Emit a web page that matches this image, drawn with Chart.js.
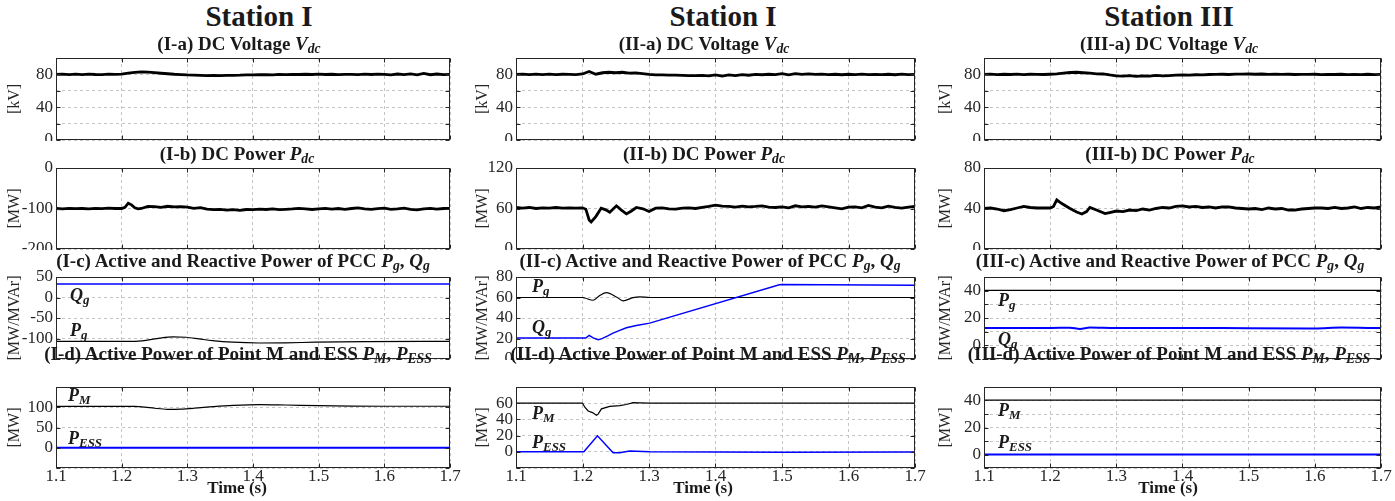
<!DOCTYPE html>
<html lang="en">
<head>
<meta charset="UTF-8" />
<title>Station responses</title>
<style>
    body {
        margin: 0;
        background: #fff;
        width: 1395px;
        height: 501px;
        overflow: hidden;
        position: relative;
        font-family: "Liberation Serif", "Times New Roman", serif;
        color: #1a1a1a;
    }
    .txt {
        position: absolute;
        white-space: nowrap;
        line-height: 1;
        font-weight: bold;
        z-index: 5;
    }
    .st { font-size: 29px; transform: translateX(-50%); }
    .pt { font-size: 19px; transform: translateX(-50%); }
    .tm { font-size: 17px; transform: translateX(-50%); }
    .lb { font-size: 18px; font-style: italic; }
    sub {
        font-size: 0.72em;
        vertical-align: baseline;
        position: relative;
        top: 0.22em;
    }
    .box { position: absolute; }
</style>
</head>
<body>
<div class="txt st" style="left:259px;top:2px">Station I</div>
<div class="txt st" style="left:723px;top:2px">Station I</div>
<div class="txt st" style="left:1169px;top:2px">Station III</div>

<div class="txt pt" style="left:239px;top:34px">(I-a) DC Voltage <i>V<sub>dc</sub></i></div>
<div class="txt pt" style="left:237px;top:144px">(I-b) DC Power <i>P<sub>dc</sub></i></div>
<div class="txt pt" style="left:243px;top:251px">(I-c) Active and Reactive Power of PCC <i>P<sub>g</sub></i>, <i>Q<sub>g</sub></i></div>
<div class="txt pt" style="left:238px;top:344px">(I-d) Active Power of Point M and ESS <i>P<sub>M</sub></i>, <i>P<sub>ESS</sub></i></div>

<div class="txt pt" style="left:704px;top:34px">(II-a) DC Voltage <i>V<sub>dc</sub></i></div>
<div class="txt pt" style="left:704px;top:144px">(II-b) DC Power <i>P<sub>dc</sub></i></div>
<div class="txt pt" style="left:710px;top:251px">(II-c) Active and Reactive Power of PCC <i>P<sub>g</sub></i>, <i>Q<sub>g</sub></i></div>
<div class="txt pt" style="left:708px;top:344px">(II-d) Active Power of Point M and ESS <i>P<sub>M</sub></i>, <i>P<sub>ESS</sub></i></div>

<div class="txt pt" style="left:1169px;top:34px">(III-a) DC Voltage <i>V<sub>dc</sub></i></div>
<div class="txt pt" style="left:1170px;top:144px">(III-b) DC Power <i>P<sub>dc</sub></i></div>
<div class="txt pt" style="left:1170px;top:251px">(III-c) Active and Reactive Power of PCC <i>P<sub>g</sub></i>, <i>Q<sub>g</sub></i></div>
<div class="txt pt" style="left:1169px;top:344px">(III-d) Active Power of Point M and ESS <i>P<sub>M</sub></i>, <i>P<sub>ESS</sub></i></div>

<div class="txt lb" style="left:70px;top:286px">Q<sub>g</sub></div>
<div class="txt lb" style="left:70px;top:321px">P<sub>g</sub></div>
<div class="txt lb" style="left:68px;top:386px">P<sub>M</sub></div>
<div class="txt lb" style="left:68px;top:429px">P<sub>ESS</sub></div>

<div class="txt lb" style="left:532px;top:277px">P<sub>g</sub></div>
<div class="txt lb" style="left:532px;top:318px">Q<sub>g</sub></div>
<div class="txt lb" style="left:532px;top:404px">P<sub>M</sub></div>
<div class="txt lb" style="left:532px;top:433px">P<sub>ESS</sub></div>

<div class="txt lb" style="left:998px;top:291px">P<sub>g</sub></div>
<div class="txt lb" style="left:998px;top:330px">Q<sub>g</sub></div>
<div class="txt lb" style="left:998px;top:401px">P<sub>M</sub></div>
<div class="txt lb" style="left:998px;top:433px">P<sub>ESS</sub></div>

<div class="txt tm" style="left:237px;top:479px">Time (s)</div>
<div class="txt tm" style="left:703px;top:479px">Time (s)</div>
<div class="txt tm" style="left:1168px;top:479px">Time (s)</div>

<script src="https://cdn.jsdelivr.net/npm/chart.js"></script>
<script>
// ---- data ----
const T_VDC = [1.10,1.11,1.12,1.13,1.14,1.15,1.16,1.17,1.18,1.19,
    1.20,1.21,1.22,1.23,1.24,1.25,1.26,1.27,1.28,1.29,
    1.30,1.31,1.32,1.33,1.34,1.35,1.36,1.37,1.38,1.39,
    1.40,1.41,1.42,1.43,1.44,1.45,1.46,1.47,1.48,1.49,
    1.50,1.51,1.52,1.53,1.54,1.55,1.56,1.57,1.58,1.59,
    1.60,1.61,1.62,1.63,1.64,1.65,1.66,1.67,1.68,1.69,1.70]
const VDC_1 = [80.0,80.4,79.7,80.3,79.8,80.4,79.9,79.7,80.3,80.0,
    80.3,81.5,82.4,83.0,82.8,82.1,81.4,80.8,80.2,79.8,
    79.3,79.0,78.7,78.5,78.8,78.4,78.7,78.9,79.0,79.3,
    79.5,79.6,79.8,79.5,80.0,79.7,80.1,79.9,80.2,79.9,
    80.3,79.9,80.2,79.8,80.1,80.0,79.7,80.3,79.9,80.4,
    80.0,79.5,80.5,79.7,80.6,79.5,81.3,79.6,80.5,79.8,80.0]
const VDC_2 = [80.0,80.4,79.7,80.3,79.8,80.4,79.7,80.2,80.0,79.8,
    80.5,83.5,80.2,82.0,82.6,82.0,82.6,81.5,81.8,81.0,
    80.0,79.5,79.3,79.2,79.0,78.8,78.6,78.5,78.8,78.2,
    79.5,78.0,79.5,78.5,79.8,79.0,80.0,79.6,80.2,79.8,
    81.0,79.5,81.0,80.0,80.6,80.0,80.4,79.8,80.2,79.6,
    80.2,79.8,80.3,79.7,80.1,79.8,80.2,79.6,80.3,79.8,80.0]
const VDC_3 = [80.0,80.3,79.8,80.2,79.9,80.3,79.8,80.2,80.0,79.9,
    80.2,80.6,81.5,82.3,82.6,82.0,81.5,80.6,80.5,79.3,
    78.3,77.8,78.6,77.5,78.3,78.0,78.8,78.3,78.6,79.0,
    79.3,79.1,79.6,79.4,79.9,80.0,80.2,79.9,80.3,80.4,
    80.5,80.2,80.5,80.1,80.3,80.0,80.2,79.9,80.1,80.0,
    80.2,79.8,80.1,79.9,80.2,79.8,80.0,79.7,80.2,79.8,80.0]

const T_PDC_1 = [1.10,1.11,1.12,1.13,1.14,1.15,1.16,1.17,1.18,1.19,1.20,
    1.205,1.21,1.215,1.22,1.225,
    1.23,1.24,1.25,1.26,1.27,1.28,1.29,1.30,
    1.31,1.32,1.33,1.34,1.35,1.36,1.37,1.38,1.39,1.40,
    1.41,1.42,1.43,1.44,1.45,1.46,1.47,1.48,1.49,1.50,
    1.51,1.52,1.53,1.54,1.55,1.56,1.57,1.58,1.59,1.60,
    1.61,1.62,1.63,1.64,1.65,1.66,1.67,1.68,1.69,1.70]
const PDC_1 = [-100,-101,-99.5,-100.5,-100,-101,-99.5,-100.5,-99,-100,-100,
    -97,-87,-91,-98,-101,
    -100,-95,-95.5,-97,-94.5,-96,-95.5,-96.5,
    -99.5,-98,-101.5,-103,-102,-104,-103,-104.5,-102.5,-103,
    -101.5,-102.5,-101,-103,-102,-101,-99.5,-101,-102.5,-101,
    -99.5,-101.5,-100,-102,-100,-98.5,-101,-102,-100.5,-99,
    -102,-101,-99,-102,-103.5,-101,-99.5,-101.5,-100,-99.5]

const T_PDC_2 = [1.10,1.11,1.12,1.13,1.14,1.15,1.16,1.17,1.18,1.19,1.20,
    1.205,1.21,1.213,1.22,1.228,1.235,1.241,1.251,1.258,1.266,1.273,1.281,1.291,1.30,
    1.31,1.32,1.33,1.34,1.35,1.36,1.37,1.38,1.39,1.40,
    1.41,1.42,1.43,1.44,1.45,1.46,1.47,1.48,1.49,1.50,
    1.51,1.52,1.53,1.54,1.55,1.56,1.57,1.58,1.59,1.60,
    1.61,1.62,1.63,1.64,1.65,1.66,1.67,1.68,1.69,1.70]
const PDC_2 = [61.5,60.5,61.5,60,61,60.5,61.5,60.5,61,60.5,61,
    59,43,40,48,60.5,58,54.5,64,58,52,56,61.5,59.5,55.5,
    60.5,61,59.5,59,60.5,61,60,61.5,63,65,
    63.5,63,62,63.5,62.5,63,64,62,61.5,62.5,
    61,64,62.5,63,62,64,62.5,61,59.5,62,
    62.5,61,64.5,62,61,63.5,61.5,60.5,62,63]

const T_PDC_3 = [1.10,1.11,1.12,1.13,1.14,1.15,1.16,1.17,1.18,1.19,1.20,
    1.205,1.21,1.215,1.22,1.23,1.24,1.248,1.255,1.26,1.27,1.283,1.29,1.30,
    1.31,1.32,1.33,1.34,1.35,1.36,1.37,1.38,1.39,1.40,
    1.41,1.42,1.43,1.44,1.45,1.46,1.47,1.48,1.49,1.50,
    1.51,1.52,1.53,1.54,1.55,1.56,1.57,1.58,1.59,1.60,
    1.61,1.62,1.63,1.64,1.65,1.66,1.67,1.68,1.69,1.70]
const PDC_3 = [40,40.5,39.5,37.8,39,40.5,42,41,40.5,40.5,40.5,
    42,48.5,46,44,40,36.5,34.5,37,41,38.5,35,36,37.5,
    37,38.5,38,39.5,38.5,40,41,40.5,42,42.5,
    41.5,42,41,41.5,40.5,41.5,41.5,40.5,40,39.5,
    40,39,40.5,39.5,40,38.5,38.5,39.5,40,40.5,
    40.5,40,41,40,40.5,41.5,40,41,40.5,41.5]

const T_PG_1 = [1.10,1.217,1.237,1.258,1.278,1.298,1.318,1.338,1.369,1.409,1.449,1.495,1.571,1.70]
const PG_1 = [-107,-107,-104.5,-99,-96,-97,-101,-105,-109,-111,-110.5,-109,-107.5,-107]
const T_QG_1 = [1.10,1.70]
const QG_1 = [33,33]
const T_PM_1 = [1.10,1.22,1.235,1.25,1.27,1.29,1.31,1.34,1.37,1.41,1.45,1.50,1.55,1.60,1.70]
const PM_1 = [102,102,100.5,97.5,95,95.5,97.5,101.5,104.5,106.5,105.5,104,103,102.5,102.5]
const T_PESS_1 = [1.10,1.70]
const PESS_1 = [0,0]

const T_PG_2 = [1.10,1.20,1.2035,1.216,1.226,1.236,1.251,1.261,1.276,1.286,1.301,1.70]
const PG_2 = [60,60,59.5,57.3,62,64.7,60.5,56.8,59.8,60.6,60,60]
const T_QG_2 = [1.10,1.205,1.21,1.216,1.2235,1.2285,1.238,1.246,1.256,1.266,1.281,1.301,1.496,1.50,1.70]
const QG_2 = [20.5,20.5,23,20.6,18.8,19.6,22.5,25.2,27.9,30.4,32.7,35,72.5,72.6,72]
const T_PM_2 = [1.10,1.20,1.2035,1.2085,1.215,1.221,1.2235,1.2285,1.241,1.256,1.266,1.276,1.286,1.301,1.70]
const PM_2 = [60,60,55,50.4,48.4,45,46.5,53,56,57,58.4,60.8,60.4,60,60]
const T_PESS_2 = [1.10,1.202,1.2225,1.246,1.256,1.271,1.281,1.301,1.50,1.70]
const PESS_2 = [0,0,19.8,-1.2,-1.2,1,0.8,0,-0.5,-0.3]

const T_PG_3 = [1.10,1.70]
const PG_3 = [40.2,40.2]
const T_QG_3 = [1.10,1.20,1.23,1.245,1.26,1.30,1.40,1.50,1.60,1.64,1.70]
const QG_3 = [12.7,12.7,12.9,12.0,13.0,12.6,12.7,12.5,12.4,13.0,12.6]
const T_PM_3 = [1.10,1.70]
const PM_3 = [40.3,40.3]
const T_PESS_3 = [1.10,1.70]
const PESS_3 = [0,0]

// y axis: [min, max, step, labelled values]
const Y_VDC = [0, 100, 20, [0, 40, 80]]
const Y_PDC = [[-200, 0, 100, [-200, -100, 0]], [0, 120, 60, [0, 60, 120]], [0, 80, 40, [0, 40, 80]]]
const Y_PCC = [[-150, 50, 50, [-100, -50, 0, 50]], [0, 80, 20, [0, 20, 40, 60, 80]], [-10, 50, 10, [0, 20, 40]]]
const Y_ESS = [[-50, 150, 50, [0, 50, 100]], [-20, 80, 20, [0, 20, 40, 60]], [-10, 50, 10, [0, 20, 40]]]
const Y_TITLES = ["[kV]", "[MW]", "[MW/MVAr]", "[MW]"]

// ---- layout ----
const COL_LEFT = [56, 516, 984]
const COL_RIGHT = [450, 915, 1381]
const ROW_TOP = [58, 168, 277, 387]
const ROW_BOTTOM = [140, 249, 359, 468]
const YTITLE_PAD = [5, 13, 8]
const AXIS_W = 56
const PAD_TOP = 10
const PAD_RIGHT = 18

const BLACK = "#000000"
const BLUE = "#0000ff"
const FONT = '"Liberation Serif", "Times New Roman", serif'

Chart.defaults.font.family = FONT
Chart.defaults.color = "#262626"

const pts = (t, v) => t.map((x, i) => ({ x: x, y: v[i] }))

const framePlugin = {
    id: "frame",
    afterDraw(chart) {
        const { ctx, chartArea: a, scales } = chart
        const l = Math.round(a.left) + 0.5
        const t = Math.round(a.top) + 0.5
        const r = Math.round(a.right) - 0.5
        const b = Math.round(a.bottom) - 0.5
        ctx.save()
        ctx.strokeStyle = "#262626"
        ctx.lineWidth = 1
        ctx.strokeRect(l, t, r - l, b - t)
        ctx.beginPath()
        scales.x.ticks.forEach((tk) => {
            const px = Math.round(scales.x.getPixelForValue(tk.value)) + 0.5
            ctx.moveTo(px, b); ctx.lineTo(px, b - 4)
            ctx.moveTo(px, t); ctx.lineTo(px, t + 4)
        })
        scales.y.ticks.forEach((tk) => {
            const py = Math.round(scales.y.getPixelForValue(tk.value)) + 0.5
            ctx.moveTo(l, py); ctx.lineTo(l + 4, py)
            ctx.moveTo(r, py); ctx.lineTo(r - 4, py)
        })
        ctx.stroke()
        ctx.restore()
    },
}

function line(t, v, color, width, smooth) {
    return {
        data: pts(t, v),
        borderColor: color,
        borderWidth: width,
        pointRadius: 0,
        fill: false,
        tension: 0,
        cubicInterpolationMode: smooth ? "monotone" : "default",
    }
}

function makeChart(col, row, datasets, yspec) {
    const [ymin, ymax, ystep, ylabels] = yspec
    const plotW = COL_RIGHT[col] - COL_LEFT[col]
    const plotH = ROW_BOTTOM[row] - ROW_TOP[row]
    const bottomH = row === 3 ? 22 : 1
    const box = document.createElement("div")
    box.className = "box"
    const w = plotW + AXIS_W + PAD_RIGHT
    const h = plotH + PAD_TOP + bottomH
    box.style.left = COL_LEFT[col] - AXIS_W + "px"
    box.style.top = ROW_TOP[row] - PAD_TOP + "px"
    box.style.width = w + "px"
    box.style.height = h + "px"
    const cv = document.createElement("canvas")
    cv.width = w
    cv.height = h
    cv.style.width = w + "px"
    cv.style.height = h + "px"
    box.appendChild(cv)
    document.body.appendChild(box)

    new Chart(cv.getContext("2d"), {
        type: "line",
        data: { datasets: datasets },
        options: {
            responsive: false,
            animation: false,
            devicePixelRatio: 1,
            layout: { padding: { top: PAD_TOP, right: PAD_RIGHT, left: 0, bottom: 0 } },
            plugins: { legend: { display: false }, tooltip: { enabled: false } },
            scales: {
                x: {
                    type: "linear",
                    min: 1.1,
                    max: 1.7,
                    afterFit: (s) => {
                        s.height = bottomH
                        s.paddingLeft = 0
                        s.paddingRight = 0
                    },
                    ticks: {
                        display: row === 3,
                        autoSkip: false,
                        stepSize: 0.1,
                        padding: -2,
                        maxRotation: 0,
                        font: { size: 17, family: FONT },
                        callback: (v) => Number(v).toFixed(1),
                    },
                    grid: { color: "#c4c4c4", lineWidth: 1, drawTicks: false },
                    border: { display: false, dash: [3, 3] },
                },
                y: {
                    type: "linear",
                    min: ymin,
                    max: ymax,
                    afterFit: (s) => {
                        s.width = AXIS_W
                        s.paddingTop = 0
                        s.paddingBottom = 0
                    },
                    ticks: {
                        autoSkip: false,
                        stepSize: ystep,
                        padding: 3,
                        font: { size: 17, family: FONT },
                        callback: (v) => ylabels.some((q) => Math.abs(q - v) < 1e-6) ? String(v) : "",
                    },
                    title: {
                        display: true,
                        text: Y_TITLES[row],
                        font: { size: 16, family: FONT },
                        padding: { top: YTITLE_PAD[col], bottom: 0 },
                    },
                    grid: { color: "#c4c4c4", lineWidth: 1, drawTicks: false },
                    border: { display: false, dash: [3, 3] },
                },
            },
        },
        plugins: [framePlugin],
    })
}

// column I
makeChart(0, 0, [line(T_VDC, VDC_1, BLACK, 2.8, false)], Y_VDC)
makeChart(0, 1, [line(T_PDC_1, PDC_1, BLACK, 2.8, false)], Y_PDC[0])
makeChart(0, 2, [line(T_QG_1, QG_1, BLUE, 1.5, true), line(T_PG_1, PG_1, BLACK, 1.2, true)], Y_PCC[0])
makeChart(0, 3, [line(T_PESS_1, PESS_1, BLUE, 2, true), line(T_PM_1, PM_1, BLACK, 1.2, true)], Y_ESS[0])
// column II
makeChart(1, 0, [line(T_VDC, VDC_2, BLACK, 2.8, false)], Y_VDC)
makeChart(1, 1, [line(T_PDC_2, PDC_2, BLACK, 2.8, false)], Y_PDC[1])
makeChart(1, 2, [line(T_QG_2, QG_2, BLUE, 1.5, false), line(T_PG_2, PG_2, BLACK, 1.2, true)], Y_PCC[1])
makeChart(1, 3, [line(T_PESS_2, PESS_2, BLUE, 1.5, false), line(T_PM_2, PM_2, BLACK, 1.2, false)], Y_ESS[1])
// column III
makeChart(2, 0, [line(T_VDC, VDC_3, BLACK, 2.8, false)], Y_VDC)
makeChart(2, 1, [line(T_PDC_3, PDC_3, BLACK, 2.8, false)], Y_PDC[2])
makeChart(2, 2, [line(T_QG_3, QG_3, BLUE, 2, true), line(T_PG_3, PG_3, BLACK, 1.2, true)], Y_PCC[2])
makeChart(2, 3, [line(T_PESS_3, PESS_3, BLUE, 2, true), line(T_PM_3, PM_3, BLACK, 1.2, true)], Y_ESS[2])
</script>
</body>
</html>
